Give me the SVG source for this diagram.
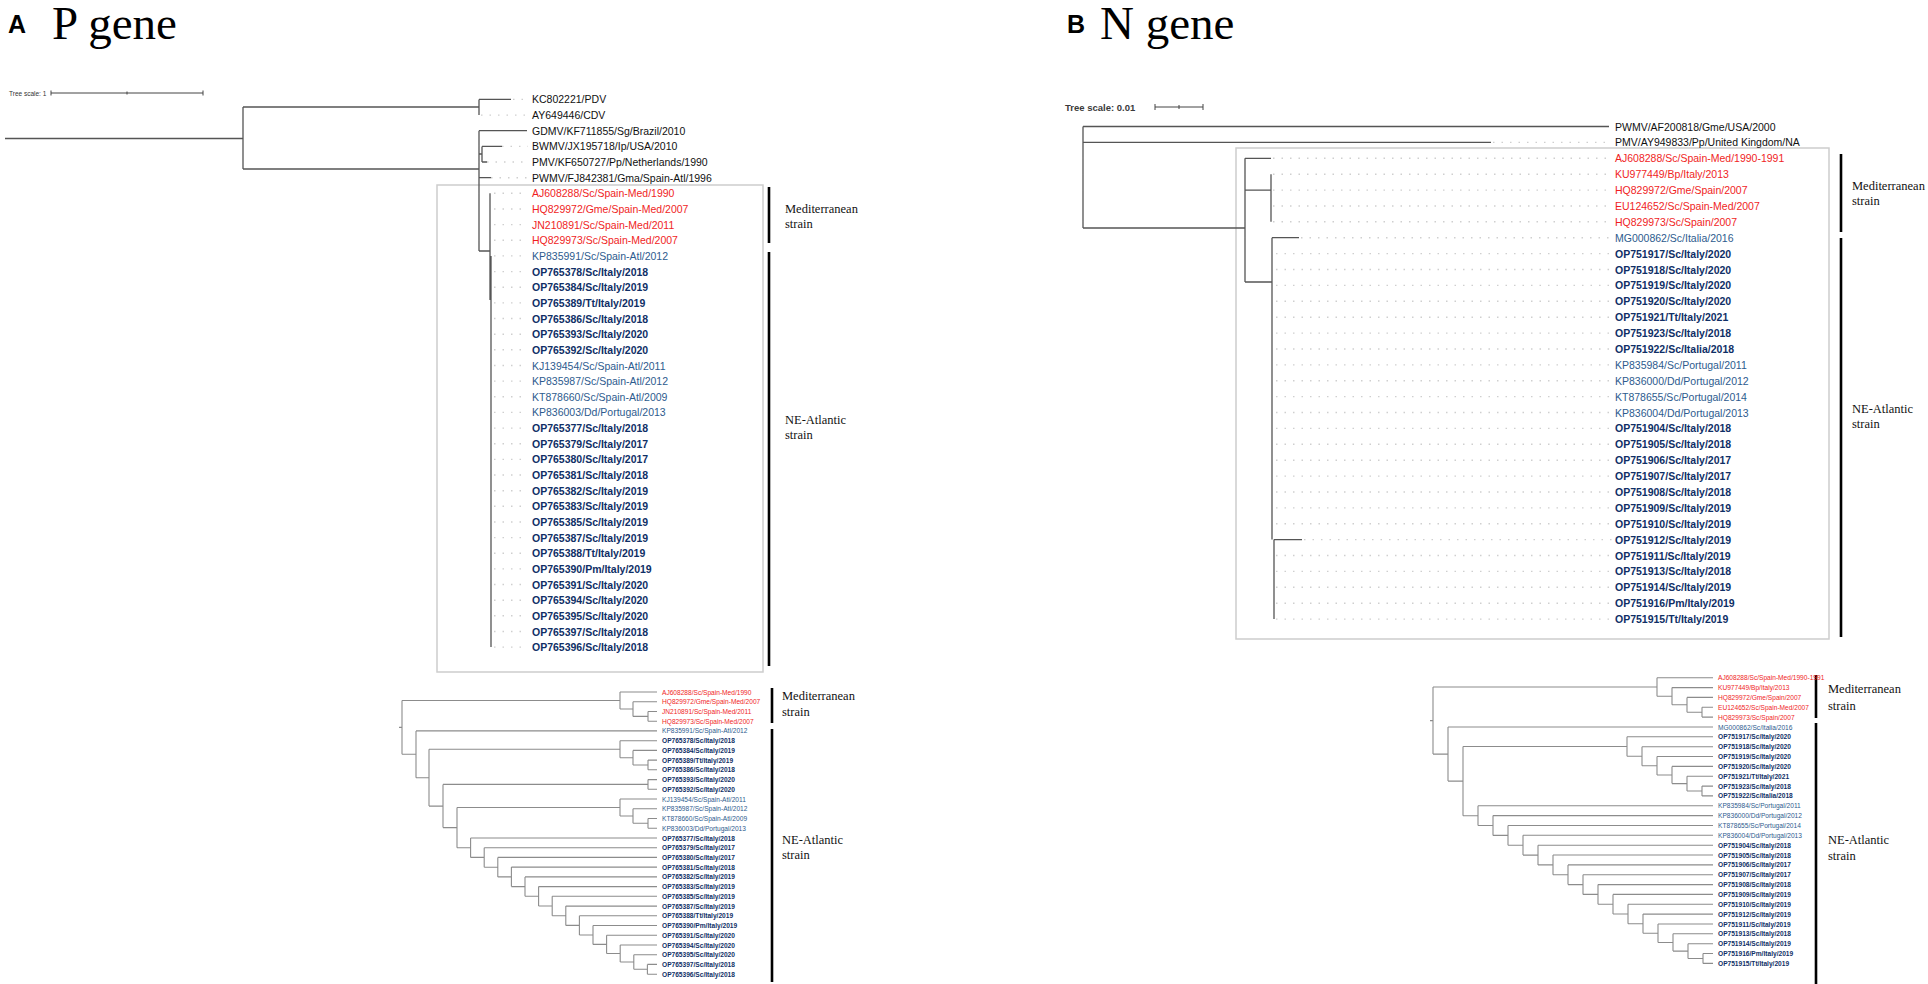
<svg xmlns="http://www.w3.org/2000/svg" width="1928" height="984" viewBox="0 0 1928 984">
<style>
.t{font-family:"Liberation Sans",Arial,sans-serif;font-size:10.5px;dominant-baseline:central}
.s{font-size:6.6px}
.k{fill:#111}
.r{fill:#f01e1e}
.b{fill:#2d5b8e}
.n{fill:#0f2f66;font-weight:bold}
.br{stroke:#555;stroke-width:1.3;fill:none}
.br2{stroke:#8c8c8c;stroke-width:1.1;fill:none}
.ld{stroke:#cfcfcf;stroke-width:1.4;stroke-dasharray:1.5 7;fill:none}
.box{fill:none;stroke:#cdcdcd;stroke-width:1.5}
.bk{stroke:#000;stroke-width:2.6}
.lab{font-family:"Liberation Serif","Times New Roman",serif;font-size:12.5px;fill:#111}
.hd{font-family:"Liberation Serif","Times New Roman",serif;font-size:47px;fill:#000}
.hl{font-family:"Liberation Sans",Arial,sans-serif;font-size:25px;font-weight:bold;fill:#000}
.sc{stroke:#444;stroke-width:1;fill:none}
</style>
<rect width="1928" height="984" fill="#fff"/>

<g id="headers">
<text class="hl" x="8" y="33">A</text>
<text class="hd" x="52" y="39">P gene</text>
<text class="hl" x="1067" y="33">B</text>
<text class="hd" x="1100" y="39">N gene</text>
</g>

<g id="scales">
<text class="t" x="9" y="93" style="font-size:6.5px;fill:#333">Tree scale: 1</text>
<path class="sc" d="M51 93H203M51 90.5V95.5M203 90.5V95.5M127 91.5V94.5"/>
<text class="t" x="1065" y="107" style="font-size:9.5px;font-weight:bold;fill:#3a3a3a">Tree scale: 0.01</text>
<path class="sc" d="M1155 107H1203M1155 104V110M1203 104V110M1179 105V109"/>
</g>

<g id="boxes">
<rect class="box" x="437" y="185" width="326" height="487"/>
<rect class="box" x="1236" y="148" width="593" height="491"/>
</g>

<g id="connectors">
<path class="ld" d="M513 99.4H528M481 115.1H528M502 146.4H528M487 162H528M491 177.7H528M494 193.3H528M494 209H528M494 224.6H528M494 240.3H528M494 255.9H528M494 271.6H528M494 287.2H528M494 302.9H528M494 318.5H528M494 334.2H528M494 349.8H528M494 365.5H528M494 381.1H528M494 396.8H528M494 412.4H528M494 428.1H528M494 443.7H528M494 459.4H528M494 475H528M494 490.7H528M494 506.3H528M494 522H528M494 537.6H528M494 553.2H528M494 568.9H528M494 584.5H528M494 600.2H528M494 615.8H528M494 631.5H528M494 647.1H528"/>
<path class="br" d="M5 138.5H243M243 107V169M243 107H479M479 99.4V115.1M479 99.4H511M243 169H479M479 130.7V251M479 130.7H527M479 154H482M482 146.4V162M482 146.4H502M482 162H487M479 177.7H491M479 251H490M490 193.3V240.3M490 215V300M491 255.9V647.1"/>
<path class="ld" d="M1493 142.4H1612M1273 158.3H1612M1273 174.2H1612M1273 190.1H1612M1273 206H1612M1273 221.8H1612M1301 237.7H1612M1276 253.6H1612M1276 269.5H1612M1276 285.4H1612M1276 301.3H1612M1276 317.2H1612M1276 333.1H1612M1276 349H1612M1276 364.9H1612M1276 380.7H1612M1276 396.6H1612M1276 412.5H1612M1276 428.4H1612M1276 444.3H1612M1276 460.2H1612M1276 476.1H1612M1276 492H1612M1276 507.9H1612M1276 523.8H1612M1304 539.6H1612M1276 555.5H1612M1276 571.4H1612M1276 587.3H1612M1276 603.2H1612M1276 619.1H1612"/>
<path class="br" d="M1083 126.5V228M1083 126.5H1609M1083 142.4H1491M1083 228H1245M1245 158.3V282M1245 158.3H1271M1245 190.1H1271M1271 174.2V221.8M1245 282H1272M1272 237.7V539.6M1272 237.7H1299M1274 539.6V619.1M1274 539.6H1302"/>
<path class="br2" d="M399 727.4H402M402 700.5V754.3M402 700.5H620M620 692V709M620 692H657M620 709H633M633 701.7V716.4M633 701.7H657M633 716.4H648M648 711.5V721.2M648 711.5H657M648 721.2H657M402 754.3H416M416 730.9V777.7M416 730.9H657M416 777.7H429M429 749.2V806.1M429 749.2H620M620 740.7V757.7M620 740.7H657M620 757.7H633M633 750.4V765M633 750.4H657M633 765H648M648 760.1V769.8M648 760.1H657M648 769.8H657M429 806.1H443M443 784.4V827.6M443 784.4H648M648 779.6V789.3M648 779.6H657M648 789.3H657M443 827.6H457M457 807.5V847.7M457 807.5H620M620 799V816M620 799H657M620 816H633M633 808.8V823.3M633 808.8H657M633 823.3H648M648 818.5V828.2M648 818.5H657M648 828.2H657M457 847.7H470.6M470.6 838V857.4M470.6 838H657M470.6 857.4H484.2M484.2 847.7V867.2M484.2 847.7H657M484.2 867.2H497.8M497.8 857.4V876.9M497.8 857.4H657M497.8 876.9H511.4M511.4 867.1V886.6M511.4 867.1H657M511.4 886.6H525M525 876.9V896.3M525 876.9H657M525 896.3H538.6M538.6 886.6V906M538.6 886.6H657M538.6 906H552.2M552.2 896.3V915.8M552.2 896.3H657M552.2 915.8H565.8M565.8 906.1V925.4M565.8 906.1H657M565.8 925.4H579.4M579.4 915.8V935M579.4 915.8H657M579.4 935H593M593 925.5V944.4M593 925.5H657M593 944.4H606.6M606.6 935.3V953.5M606.6 935.3H657M606.6 953.5H620.2M620.2 945V962M620.2 945H657M620.2 962H633.8M633.8 954.7V969.3M633.8 954.7H657M633.8 969.3H647.4M647.4 964.4V974.2M647.4 964.4H657M647.4 974.2H657"/>
<path class="br2" d="M1430 720.6H1433M1433 687V754.1M1433 687H1657M1657 677.7V696.2M1657 677.7H1713M1657 696.2H1672M1672 687.6V704.8M1672 687.6H1713M1672 704.8H1687M1687 697.4V712.2M1687 697.4H1713M1687 712.2H1702M1702 707.3V717.1M1702 707.3H1713M1702 717.1H1713M1433 754.1H1448M1448 727V781.1M1448 727H1713M1448 781.1H1463M1463 746.5V815.7M1463 746.5H1627M1627 736.8V756.2M1627 736.8H1713M1627 756.2H1642M1642 746.7V765.8M1642 746.7H1713M1642 765.8H1657M1657 756.5V775M1657 756.5H1713M1657 775H1672M1672 766.4V783.6M1672 766.4H1713M1672 783.6H1687M1687 776.2V791M1687 776.2H1713M1687 791H1702M1702 786.1V795.9M1702 786.1H1713M1702 795.9H1713M1463 815.7H1478M1478 805.8V825.5M1478 805.8H1713M1478 825.5H1493M1493 815.6V835.4M1493 815.6H1713M1493 835.4H1508M1508 825.5V845.2M1508 825.5H1713M1508 845.2H1523M1523 835.3V855.1M1523 835.3H1713M1523 855.1H1538M1538 845.2V864.9M1538 845.2H1713M1538 864.9H1553M1553 855V874.8M1553 855H1713M1553 874.8H1568M1568 864.9V884.6M1568 864.9H1713M1568 884.6H1583M1583 874.7V894.4M1583 874.7H1713M1583 894.4H1598M1598 884.6V904.2M1598 884.6H1713M1598 904.2H1613M1613 894.4V914M1613 894.4H1713M1613 914H1628M1628 904.3V923.7M1628 904.3H1713M1628 923.7H1643M1643 914.1V933.2M1643 914.1H1713M1643 933.2H1658M1658 924V942.5M1658 924H1713M1658 942.5H1673M1673 933.8V951.1M1673 933.8H1713M1673 951.1H1688M1688 943.7V958.5M1688 943.7H1713M1688 958.5H1703M1703 953.5V963.4M1703 953.5H1713M1703 963.4H1713"/>
</g>

<g id="brackets">
<path class="bk" d="M769 187V243M769 252V666M772 688V723M772 729V982M1841 154V232M1841 238V637M1816 675V718M1816 723V984"/>
</g>

<g id="clade-labels">
<text class="lab" x="785" y="213">Mediterranean</text><text class="lab" x="785" y="228">strain</text>
<text class="lab" x="785" y="424">NE-Atlantic</text><text class="lab" x="785" y="439">strain</text>
<text class="lab" x="782" y="700">Mediterranean</text><text class="lab" x="782" y="716">strain</text>
<text class="lab" x="782" y="844">NE-Atlantic</text><text class="lab" x="782" y="859">strain</text>
<text class="lab" x="1852" y="190">Mediterranean</text><text class="lab" x="1852" y="205">strain</text>
<text class="lab" x="1852" y="413">NE-Atlantic</text><text class="lab" x="1852" y="428">strain</text>
<text class="lab" x="1828" y="693">Mediterranean</text><text class="lab" x="1828" y="710">strain</text>
<text class="lab" x="1828" y="844">NE-Atlantic</text><text class="lab" x="1828" y="860">strain</text>
</g>

<g id="P-top-leaves">
<text class="t k" x="532" y="99.4">KC802221/PDV</text>
<text class="t k" x="532" y="115.1">AY649446/CDV</text>
<text class="t k" x="532" y="130.7">GDMV/KF711855/Sg/Brazil/2010</text>
<text class="t k" x="532" y="146.4">BWMV/JX195718/Ip/USA/2010</text>
<text class="t k" x="532" y="162">PMV/KF650727/Pp/Netherlands/1990</text>
<text class="t k" x="532" y="177.7">PWMV/FJ842381/Gma/Spain-Atl/1996</text>
<text class="t r" x="532" y="193.3">AJ608288/Sc/Spain-Med/1990</text>
<text class="t r" x="532" y="209">HQ829972/Gme/Spain-Med/2007</text>
<text class="t r" x="532" y="224.6">JN210891/Sc/Spain-Med/2011</text>
<text class="t r" x="532" y="240.3">HQ829973/Sc/Spain-Med/2007</text>
<text class="t b" x="532" y="255.9">KP835991/Sc/Spain-Atl/2012</text>
<text class="t n" x="532" y="271.6">OP765378/Sc/Italy/2018</text>
<text class="t n" x="532" y="287.2">OP765384/Sc/Italy/2019</text>
<text class="t n" x="532" y="302.9">OP765389/Tt/Italy/2019</text>
<text class="t n" x="532" y="318.5">OP765386/Sc/Italy/2018</text>
<text class="t n" x="532" y="334.2">OP765393/Sc/Italy/2020</text>
<text class="t n" x="532" y="349.8">OP765392/Sc/Italy/2020</text>
<text class="t b" x="532" y="365.5">KJ139454/Sc/Spain-Atl/2011</text>
<text class="t b" x="532" y="381.1">KP835987/Sc/Spain-Atl/2012</text>
<text class="t b" x="532" y="396.8">KT878660/Sc/Spain-Atl/2009</text>
<text class="t b" x="532" y="412.4">KP836003/Dd/Portugal/2013</text>
<text class="t n" x="532" y="428.1">OP765377/Sc/Italy/2018</text>
<text class="t n" x="532" y="443.7">OP765379/Sc/Italy/2017</text>
<text class="t n" x="532" y="459.4">OP765380/Sc/Italy/2017</text>
<text class="t n" x="532" y="475">OP765381/Sc/Italy/2018</text>
<text class="t n" x="532" y="490.7">OP765382/Sc/Italy/2019</text>
<text class="t n" x="532" y="506.3">OP765383/Sc/Italy/2019</text>
<text class="t n" x="532" y="522">OP765385/Sc/Italy/2019</text>
<text class="t n" x="532" y="537.6">OP765387/Sc/Italy/2019</text>
<text class="t n" x="532" y="553.2">OP765388/Tt/Italy/2019</text>
<text class="t n" x="532" y="568.9">OP765390/Pm/Italy/2019</text>
<text class="t n" x="532" y="584.5">OP765391/Sc/Italy/2020</text>
<text class="t n" x="532" y="600.2">OP765394/Sc/Italy/2020</text>
<text class="t n" x="532" y="615.8">OP765395/Sc/Italy/2020</text>
<text class="t n" x="532" y="631.5">OP765397/Sc/Italy/2018</text>
<text class="t n" x="532" y="647.1">OP765396/Sc/Italy/2018</text>
</g>

<g id="P-bottom-leaves">
<text class="t s r" x="662" y="692">AJ608288/Sc/Spain-Med/1990</text>
<text class="t s r" x="662" y="701.7">HQ829972/Gme/Spain-Med/2007</text>
<text class="t s r" x="662" y="711.5">JN210891/Sc/Spain-Med/2011</text>
<text class="t s r" x="662" y="721.2">HQ829973/Sc/Spain-Med/2007</text>
<text class="t s b" x="662" y="730.9">KP835991/Sc/Spain-Atl/2012</text>
<text class="t s n" x="662" y="740.7">OP765378/Sc/Italy/2018</text>
<text class="t s n" x="662" y="750.4">OP765384/Sc/Italy/2019</text>
<text class="t s n" x="662" y="760.1">OP765389/Tt/Italy/2019</text>
<text class="t s n" x="662" y="769.8">OP765386/Sc/Italy/2018</text>
<text class="t s n" x="662" y="779.6">OP765393/Sc/Italy/2020</text>
<text class="t s n" x="662" y="789.3">OP765392/Sc/Italy/2020</text>
<text class="t s b" x="662" y="799">KJ139454/Sc/Spain-Atl/2011</text>
<text class="t s b" x="662" y="808.8">KP835987/Sc/Spain-Atl/2012</text>
<text class="t s b" x="662" y="818.5">KT878660/Sc/Spain-Atl/2009</text>
<text class="t s b" x="662" y="828.2">KP836003/Dd/Portugal/2013</text>
<text class="t s n" x="662" y="838">OP765377/Sc/Italy/2018</text>
<text class="t s n" x="662" y="847.7">OP765379/Sc/Italy/2017</text>
<text class="t s n" x="662" y="857.4">OP765380/Sc/Italy/2017</text>
<text class="t s n" x="662" y="867.1">OP765381/Sc/Italy/2018</text>
<text class="t s n" x="662" y="876.9">OP765382/Sc/Italy/2019</text>
<text class="t s n" x="662" y="886.6">OP765383/Sc/Italy/2019</text>
<text class="t s n" x="662" y="896.3">OP765385/Sc/Italy/2019</text>
<text class="t s n" x="662" y="906.1">OP765387/Sc/Italy/2019</text>
<text class="t s n" x="662" y="915.8">OP765388/Tt/Italy/2019</text>
<text class="t s n" x="662" y="925.5">OP765390/Pm/Italy/2019</text>
<text class="t s n" x="662" y="935.3">OP765391/Sc/Italy/2020</text>
<text class="t s n" x="662" y="945">OP765394/Sc/Italy/2020</text>
<text class="t s n" x="662" y="954.7">OP765395/Sc/Italy/2020</text>
<text class="t s n" x="662" y="964.4">OP765397/Sc/Italy/2018</text>
<text class="t s n" x="662" y="974.2">OP765396/Sc/Italy/2018</text>
</g>

<g id="N-top-leaves">
<text class="t k" x="1615" y="126.5">PWMV/AF200818/Gme/USA/2000</text>
<text class="t k" x="1615" y="142.4">PMV/AY949833/Pp/United Kingdom/NA</text>
<text class="t r" x="1615" y="158.3">AJ608288/Sc/Spain-Med/1990-1991</text>
<text class="t r" x="1615" y="174.2">KU977449/Bp/Italy/2013</text>
<text class="t r" x="1615" y="190.1">HQ829972/Gme/Spain/2007</text>
<text class="t r" x="1615" y="206">EU124652/Sc/Spain-Med/2007</text>
<text class="t r" x="1615" y="221.8">HQ829973/Sc/Spain/2007</text>
<text class="t b" x="1615" y="237.7">MG000862/Sc/Italia/2016</text>
<text class="t n" x="1615" y="253.6">OP751917/Sc/Italy/2020</text>
<text class="t n" x="1615" y="269.5">OP751918/Sc/Italy/2020</text>
<text class="t n" x="1615" y="285.4">OP751919/Sc/Italy/2020</text>
<text class="t n" x="1615" y="301.3">OP751920/Sc/Italy/2020</text>
<text class="t n" x="1615" y="317.2">OP751921/Tt/Italy/2021</text>
<text class="t n" x="1615" y="333.1">OP751923/Sc/Italy/2018</text>
<text class="t n" x="1615" y="349">OP751922/Sc/Italia/2018</text>
<text class="t b" x="1615" y="364.9">KP835984/Sc/Portugal/2011</text>
<text class="t b" x="1615" y="380.7">KP836000/Dd/Portugal/2012</text>
<text class="t b" x="1615" y="396.6">KT878655/Sc/Portugal/2014</text>
<text class="t b" x="1615" y="412.5">KP836004/Dd/Portugal/2013</text>
<text class="t n" x="1615" y="428.4">OP751904/Sc/Italy/2018</text>
<text class="t n" x="1615" y="444.3">OP751905/Sc/Italy/2018</text>
<text class="t n" x="1615" y="460.2">OP751906/Sc/Italy/2017</text>
<text class="t n" x="1615" y="476.1">OP751907/Sc/Italy/2017</text>
<text class="t n" x="1615" y="492">OP751908/Sc/Italy/2018</text>
<text class="t n" x="1615" y="507.9">OP751909/Sc/Italy/2019</text>
<text class="t n" x="1615" y="523.8">OP751910/Sc/Italy/2019</text>
<text class="t n" x="1615" y="539.6">OP751912/Sc/Italy/2019</text>
<text class="t n" x="1615" y="555.5">OP751911/Sc/Italy/2019</text>
<text class="t n" x="1615" y="571.4">OP751913/Sc/Italy/2018</text>
<text class="t n" x="1615" y="587.3">OP751914/Sc/Italy/2019</text>
<text class="t n" x="1615" y="603.2">OP751916/Pm/Italy/2019</text>
<text class="t n" x="1615" y="619.1">OP751915/Tt/Italy/2019</text>
</g>

<g id="N-bottom-leaves">
<text class="t s r" x="1718" y="677.7">AJ608288/Sc/Spain-Med/1990-1991</text>
<text class="t s r" x="1718" y="687.6">KU977449/Bp/Italy/2013</text>
<text class="t s r" x="1718" y="697.4">HQ829972/Gme/Spain/2007</text>
<text class="t s r" x="1718" y="707.3">EU124652/Sc/Spain-Med/2007</text>
<text class="t s r" x="1718" y="717.1">HQ829973/Sc/Spain/2007</text>
<text class="t s b" x="1718" y="727">MG000862/Sc/Italia/2016</text>
<text class="t s n" x="1718" y="736.8">OP751917/Sc/Italy/2020</text>
<text class="t s n" x="1718" y="746.7">OP751918/Sc/Italy/2020</text>
<text class="t s n" x="1718" y="756.5">OP751919/Sc/Italy/2020</text>
<text class="t s n" x="1718" y="766.4">OP751920/Sc/Italy/2020</text>
<text class="t s n" x="1718" y="776.2">OP751921/Tt/Italy/2021</text>
<text class="t s n" x="1718" y="786.1">OP751923/Sc/Italy/2018</text>
<text class="t s n" x="1718" y="795.9">OP751922/Sc/Italia/2018</text>
<text class="t s b" x="1718" y="805.8">KP835984/Sc/Portugal/2011</text>
<text class="t s b" x="1718" y="815.6">KP836000/Dd/Portugal/2012</text>
<text class="t s b" x="1718" y="825.5">KT878655/Sc/Portugal/2014</text>
<text class="t s b" x="1718" y="835.3">KP836004/Dd/Portugal/2013</text>
<text class="t s n" x="1718" y="845.2">OP751904/Sc/Italy/2018</text>
<text class="t s n" x="1718" y="855">OP751905/Sc/Italy/2018</text>
<text class="t s n" x="1718" y="864.9">OP751906/Sc/Italy/2017</text>
<text class="t s n" x="1718" y="874.7">OP751907/Sc/Italy/2017</text>
<text class="t s n" x="1718" y="884.6">OP751908/Sc/Italy/2018</text>
<text class="t s n" x="1718" y="894.4">OP751909/Sc/Italy/2019</text>
<text class="t s n" x="1718" y="904.3">OP751910/Sc/Italy/2019</text>
<text class="t s n" x="1718" y="914.1">OP751912/Sc/Italy/2019</text>
<text class="t s n" x="1718" y="924">OP751911/Sc/Italy/2019</text>
<text class="t s n" x="1718" y="933.8">OP751913/Sc/Italy/2018</text>
<text class="t s n" x="1718" y="943.7">OP751914/Sc/Italy/2019</text>
<text class="t s n" x="1718" y="953.5">OP751916/Pm/Italy/2019</text>
<text class="t s n" x="1718" y="963.4">OP751915/Tt/Italy/2019</text>
</g>
</svg>
